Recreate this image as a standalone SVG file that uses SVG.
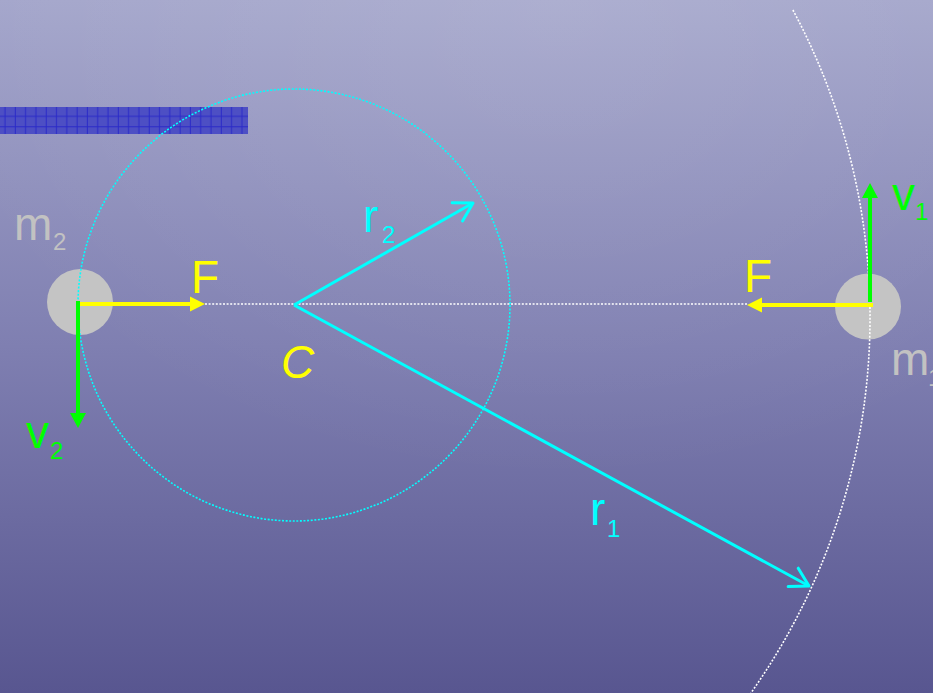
<svg xmlns="http://www.w3.org/2000/svg" width="933" height="693" viewBox="0 0 933 693">
  <defs>
    <linearGradient id="bg" x1="0" y1="0" x2="0" y2="1">
      <stop offset="0" stop-color="#a4a6cb"/>
      <stop offset="0.5" stop-color="#7f7fb1"/>
      <stop offset="1" stop-color="#585690"/>
    </linearGradient>
    <radialGradient id="hl" cx="0.6" cy="0" r="0.7">
      <stop offset="0" stop-color="#ffffff" stop-opacity="0.1"/>
      <stop offset="1" stop-color="#ffffff" stop-opacity="0"/>
    </radialGradient>
    <pattern id="grid" x="0" y="107" width="10.3" height="10.5" patternUnits="userSpaceOnUse">
      <rect width="10.3" height="10.5" fill="#4d4fc4"/>
      <line x1="5" y1="0" x2="5" y2="10.5" stroke="#2a2ac8" stroke-width="1"/>
      <line x1="0" y1="9.3" x2="10.3" y2="9.3" stroke="#2a2ac8" stroke-width="1"/>
    </pattern>
    <marker id="triY" markerUnits="userSpaceOnUse" markerWidth="20" markerHeight="20" refX="0" refY="0" viewBox="-1 -10 20 20" orient="auto" overflow="visible">
      <path d="M0,-7.5 L15,0 L0,7.5 z" fill="#ffff00"/>
    </marker>
    <marker id="triG" markerUnits="userSpaceOnUse" markerWidth="20" markerHeight="20" refX="0" refY="0" viewBox="-1 -10 20 20" orient="auto" overflow="visible">
      <path d="M0,-8 L15,0 L0,8 z" fill="#00ff00"/>
    </marker>
    <marker id="openC" markerUnits="userSpaceOnUse" markerWidth="30" markerHeight="30" refX="0" refY="0" viewBox="-25 -15 30 30" orient="auto" overflow="visible">
      <path d="M-18,-10.5 L0,0 L-18,10.5" fill="none" stroke="#00ffff" stroke-width="3" stroke-linecap="round" stroke-linejoin="round"/>
    </marker>
    <style>
      .mass { fill: #c4c4c4; }
      .dotW { fill: none; stroke: #ffffff; stroke-width: 1.6; stroke-dasharray: 2 1.6; }
      .dotC { fill: none; stroke: #00ffff; stroke-width: 1.6; stroke-dasharray: 2 1.6; }
      .force { stroke: #ffff00; stroke-width: 4; fill: none; marker-end: url(#triY); }
      .vel { stroke: #00ff00; stroke-width: 4; fill: none; marker-end: url(#triG); }
      .rad { stroke: #00ffff; stroke-width: 3; fill: none; marker-end: url(#openC); }
      text { font-family: "Liberation Sans", "DejaVu Sans", sans-serif; }
      .big { font-size: 46px; }
      .sub { font-size: 24px; }
      .yel { fill: #ffff00; }
      .grn { fill: #00ff00; }
      .cyn { fill: #00ffff; }
      .gry { fill: #c2c2c2; }
    </style>
  </defs>

  <rect width="933" height="693" fill="url(#bg)"/>
  <rect width="933" height="693" fill="url(#hl)"/>

  <rect id="bar" x="0" y="107" width="248" height="27" fill="url(#grid)"/>

  <g id="m2">
    <circle class="mass" cx="80" cy="302" r="33"/>
  </g>
  <g id="m1">
    <circle class="mass" cx="868" cy="306.5" r="33"/>
  </g>

  <g id="orbits">
    <path class="dotW" d="M792.9,10 A651.5,651.5 0 0 1 750.9,693"/>
    <circle class="dotC" cx="294" cy="305" r="216"/>
  </g>

  <g id="connectors">
    <line class="dotW" x1="205" y1="304" x2="747" y2="304"/>
    <line class="force" x1="80" y1="304" x2="190" y2="304"/>
    <line class="force" x1="873" y1="305" x2="762" y2="305"/>
    <line class="vel" x1="78" y1="301" x2="78" y2="413"/>
    <line class="vel" x1="870" y1="302" x2="870" y2="198"/>
    <line class="rad" x1="294" y1="305" x2="473" y2="203"/>
    <line class="rad" x1="294" y1="305" x2="809" y2="586"/>
  </g>

  <g id="labels">
    <g id="label-m2"><text class="big gry" x="14" y="240">m</text><text class="sub gry" x="53" y="250">2</text></g>
    <g id="label-m1"><text class="big gry" x="891" y="375">m</text><text class="sub gry" x="928" y="386">1</text></g>
    <g id="label-v2"><text class="big grn" x="26" y="448">v</text><text class="sub grn" x="50" y="459">2</text></g>
    <g id="label-v1"><text class="big grn" x="892" y="210">v</text><text class="sub grn" x="915" y="220">1</text></g>
    <g id="label-F2"><text class="big yel" x="191" y="293">F</text></g>
    <g id="label-F1"><text class="big yel" x="744" y="292">F</text></g>
    <g id="C"><text class="big yel" x="281" y="378" font-style="italic">C</text></g>
    <g id="label-r2"><text class="big cyn" x="363" y="232">r</text><text class="sub cyn" x="382" y="243">2</text></g>
    <g id="label-r1"><text class="big cyn" x="590" y="525">r</text><text class="sub cyn" x="607" y="537">1</text></g>
  </g>
</svg>
